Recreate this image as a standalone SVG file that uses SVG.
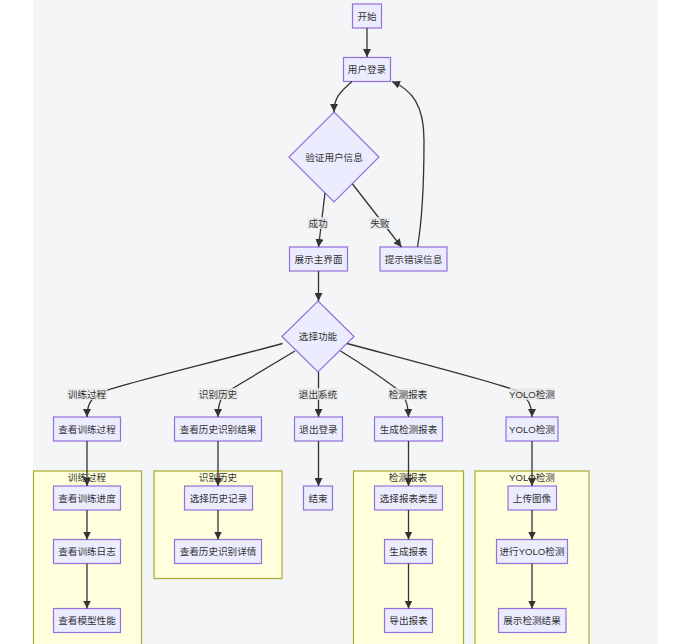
<svg xmlns="http://www.w3.org/2000/svg" width="685" height="644" viewBox="0 0 685 644">
<defs>
<marker id="arr" viewBox="0 0 10 10" refX="10" refY="5" markerUnits="userSpaceOnUse" markerWidth="8" markerHeight="8" orient="auto">
<path d="M0,0 L10,5 L0,10 z" fill="#333333"/>
</marker>
</defs>
<style>
.node rect,.node polygon{fill:#ECECFF;stroke:#9370DB;stroke-width:1.2}
.cluster rect{fill:#ffffde;stroke:#aaaa33;stroke-width:1.2}
text{font-family:"Liberation Sans","Noto Sans CJK SC",sans-serif;font-size:9.6px;fill:#333333;text-anchor:middle;dominant-baseline:central}
.edges path{fill:none;stroke:#333333;stroke-width:1.3}
.lbl rect{fill:#e8e8e8;opacity:0.8}
</style>
<rect x="0" y="0" width="685" height="644" fill="#ffffff"/>
<rect x="33" y="0" width="625" height="644" fill="#f4f5f7"/>

<g id="clusters" class="cluster">
<g id="cluster-train"><rect x="33.5" y="471" width="108" height="180"/><text x="87" y="477">训练过程</text></g>
<g id="cluster-hist"><rect x="154" y="471" width="128" height="107.5"/><text x="218" y="477">识别历史</text></g>
<g id="cluster-report"><rect x="353.5" y="471" width="110" height="180"/><text x="408" y="477">检测报表</text></g>
<g id="cluster-yolo"><rect x="475" y="471" width="114" height="180"/><text x="532" y="477">YOLO检测</text></g>
</g>

<g id="n-start" class="node"><rect x="352.5" y="4" width="29" height="24"/><text x="367" y="16">开始</text></g>
<g id="n-login" class="node"><rect x="343.5" y="57.5" width="47" height="24"/><text x="367" y="69.5">用户登录</text></g>
<g id="n-verify" class="node"><polygon points="334,112 379,157 334,202 289,157"/><text x="334" y="157">验证用户信息</text></g>
<g id="n-main" class="node"><rect x="289.5" y="247" width="58" height="24"/><text x="318.5" y="259">展示主界面</text></g>
<g id="n-err" class="node"><rect x="380" y="247" width="67" height="24"/><text x="413.5" y="259">提示错误信息</text></g>
<g id="n-select" class="node"><polygon points="318,301 354,336.5 318,372 282,336.5"/><text x="318" y="336.5">选择功能</text></g>

<g id="n-train" class="node"><rect x="53.5" y="417" width="67" height="24"/><text x="87" y="429">查看训练过程</text></g>
<g id="n-hist" class="node"><rect x="174.5" y="417" width="87" height="24"/><text x="218" y="429">查看历史识别结果</text></g>
<g id="n-logout" class="node"><rect x="294.5" y="417" width="48" height="24"/><text x="318.5" y="429">退出登录</text></g>
<g id="n-report" class="node"><rect x="374.5" y="417" width="68" height="24"/><text x="408.5" y="429">生成检测报表</text></g>
<g id="n-yolo" class="node"><rect x="506" y="417" width="52" height="24"/><text x="532" y="429">YOLO检测</text></g>

<g id="n-progress" class="node"><rect x="53.5" y="486" width="67" height="24"/><text x="87" y="498">查看训练进度</text></g>
<g id="n-log" class="node"><rect x="53.5" y="539.5" width="67" height="24"/><text x="87" y="551.5">查看训练日志</text></g>
<g id="n-perf" class="node"><rect x="53.5" y="608.5" width="67" height="24"/><text x="87" y="620.5">查看模型性能</text></g>
<g id="n-selhist" class="node"><rect x="184.5" y="486" width="68" height="24"/><text x="218.5" y="498">选择历史记录</text></g>
<g id="n-histdetail" class="node"><rect x="174.5" y="539.5" width="87" height="24"/><text x="218" y="551.5">查看历史识别详情</text></g>
<g id="n-end" class="node"><rect x="303.5" y="486" width="29" height="24"/><text x="318" y="498">结束</text></g>
<g id="n-seltype" class="node"><rect x="374.5" y="486" width="68" height="24"/><text x="408.5" y="498">选择报表类型</text></g>
<g id="n-genrep" class="node"><rect x="384.5" y="539.5" width="48" height="24"/><text x="408.5" y="551.5">生成报表</text></g>
<g id="n-export" class="node"><rect x="384.5" y="608.5" width="48" height="24"/><text x="408.5" y="620.5">导出报表</text></g>
<g id="n-upload" class="node"><rect x="508" y="486" width="48.5" height="24"/><text x="532" y="498">上传图像</text></g>
<g id="n-detect" class="node"><rect x="496.5" y="539.5" width="71" height="24"/><text x="532" y="551.5">进行YOLO检测</text></g>
<g id="n-show" class="node"><rect x="498.5" y="608.5" width="67.5" height="24"/><text x="532" y="620.5">展示检测结果</text></g>

<g id="edges" class="edges">
<path d="M367,28 L367,57" marker-end="url(#arr)"/>
<path d="M352,81.5 C340,92 334,98 334,112" marker-end="url(#arr)"/>
<path d="M325,193 L318.5,247" marker-end="url(#arr)"/>
<path d="M352.5,184 L401.5,247" marker-end="url(#arr)"/>
<path d="M417.5,247 C423,215 424,180 424,140 C424,105 412,90 392,81.5" marker-end="url(#arr)"/>
<path d="M318.5,271 L318.5,301" marker-end="url(#arr)"/>
<path d="M282.5,343.5 C210,363 135,381 108,390 C93,395 87,402 87,417" marker-end="url(#arr)"/>
<path d="M295,351 C270,366 245,381 230,390 C221,396 218,403 218,417" marker-end="url(#arr)"/>
<path d="M318.5,372 L318.5,417" marker-end="url(#arr)"/>
<path d="M340.5,351 C365,366 385,380 397,389 C405,396 408,403 408.5,417" marker-end="url(#arr)"/>
<path d="M347,343.5 C420,363 490,381 515,390 C526,395 532,403 532,417" marker-end="url(#arr)"/>
<path d="M87,441 L87,486" marker-end="url(#arr)"/>
<path d="M87,510 L87,539.5" marker-end="url(#arr)"/>
<path d="M87,563.5 L87,608.5" marker-end="url(#arr)"/>
<path d="M218,441 L218,486" marker-end="url(#arr)"/>
<path d="M218,510 L218,539.5" marker-end="url(#arr)"/>
<path d="M318.5,441 L318.5,486" marker-end="url(#arr)"/>
<path d="M408.5,441 L408.5,486" marker-end="url(#arr)"/>
<path d="M408.5,510 L408.5,539.5" marker-end="url(#arr)"/>
<path d="M408.5,563.5 L408.5,608.5" marker-end="url(#arr)"/>
<path d="M532,441 L532,486" marker-end="url(#arr)"/>
<path d="M532,510 L532,539.5" marker-end="url(#arr)"/>
<path d="M532,563.5 L532,608.5" marker-end="url(#arr)"/>
</g>

<g id="edge-labels">
<g class="lbl"><rect x="307" y="217" width="21" height="12"/><text x="318" y="223">成功</text></g>
<g class="lbl"><rect x="369" y="217" width="21" height="12"/><text x="380" y="223">失败</text></g>
<g class="lbl"><rect x="67" y="388" width="40" height="12"/><text x="87" y="394">训练过程</text></g>
<g class="lbl"><rect x="198" y="388" width="40" height="12"/><text x="218" y="394">识别历史</text></g>
<g class="lbl"><rect x="298" y="388" width="40" height="12"/><text x="318" y="394">退出系统</text></g>
<g class="lbl"><rect x="388" y="388" width="40" height="12"/><text x="408" y="394">检测报表</text></g>
<g class="lbl"><rect x="510" y="388" width="44" height="12"/><text x="532" y="394">YOLO检测</text></g>
</g>
</svg>
